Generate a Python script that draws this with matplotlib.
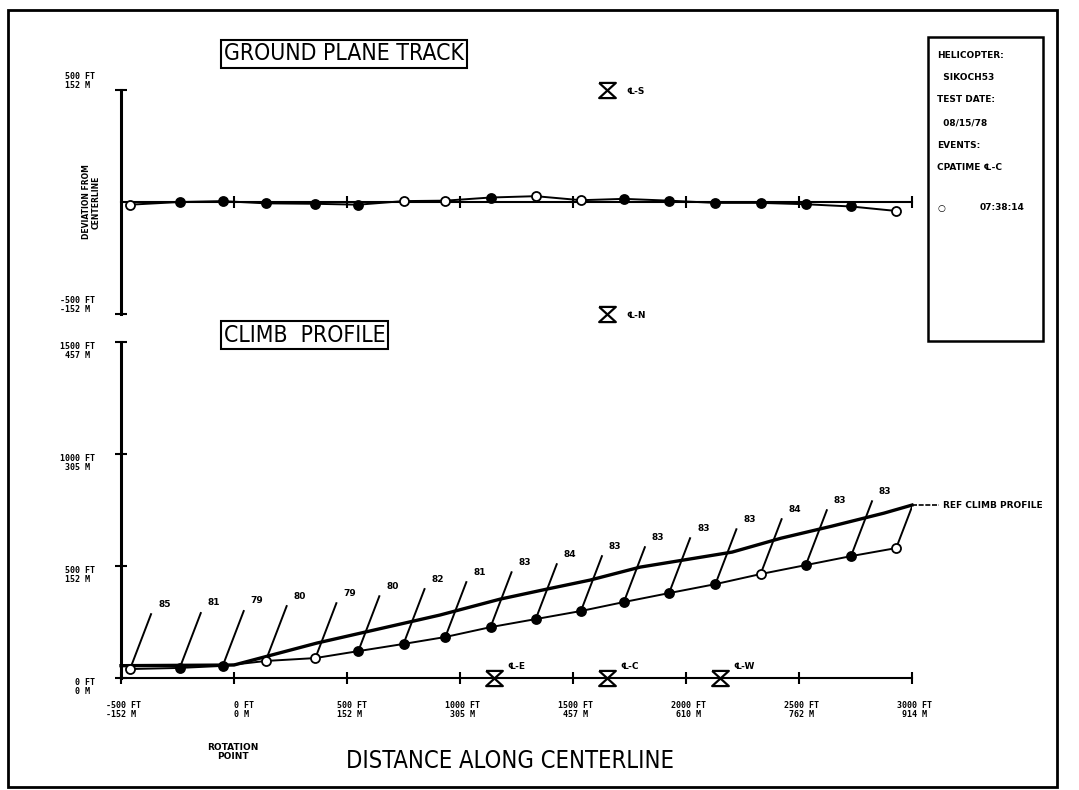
import matplotlib.pyplot as plt
import numpy as np
from matplotlib.path import Path
from matplotlib.patches import Rectangle

# recorded points along the run (same events in both panels)
distance_ft = [-460, -240, -50, 140, 360, 550, 750, 935, 1135, 1335,
               1535, 1725, 1925, 2130, 2330, 2530, 2730, 2930]
deviation_ft = [-12, 0, 4, -6, -8, -12, 4, 6, 20, 26,
                8, 14, 6, -4, -4, -10, -20, -40]
altitude_ft = [40, 45, 54, 76, 89, 120, 152, 183, 227, 263,
               299, 339, 379, 419, 464, 504, 544, 580]
speed_kts = [85, 81, 79, 80, 79, 80, 82, 81, 83,
             84, 83, 83, 83, 83, 84, 83, 83, 83]
# 1 = open symbol, 0 = solid symbol
track_open = [1, 0, 0, 0, 0, 0, 1, 1, 0, 1, 1, 0, 0, 0, 0, 0, 0, 1]
climb_open = [1, 0, 0, 1, 1, 0, 0, 0, 0, 0, 0, 0, 0, 0, 1, 0, 0, 1]

# reference climb profile
ref_dist_ft = [-500, 0, 367, 911, 1177, 1385, 1575, 1797, 2204, 2420, 2646, 2876, 3000]
ref_alt_ft = [55, 58, 156, 281, 352, 397, 437, 495, 562, 624, 678, 736, 772]

# microphone positions
mic_names = ['E', 'C', 'W']
mic_dist_ft = [1150, 1650, 2150]
side_mic_names = ['S', 'N']
side_mic_dev_ft = [500, -500]
side_mic_dist_ft = 1650

x_ticks_ft = [-500, 0, 500, 1000, 1500, 2000, 2500, 3000]
x_ticks_m = [-152, 0, 152, 305, 457, 610, 762, 914]
climb_ticks_ft = [0, 500, 1000, 1500]
climb_ticks_m = [0, 152, 305, 457]
track_ticks_ft = [-500, 500]
track_ticks_m = [-152, 152]

info_lines = ['HELICOPTER:', '  SIKOCH53', 'TEST DATE:', '  08/15/78',
              'EVENTS:', 'CPATIME \u2104-C']
cpa_time = '07:38:14'

W, H = 1079, 790
fig = plt.figure(figsize=(W / 100, H / 100), dpi=100)


def fbox(x0, y0, x1, y1):
    # pixel box -> figure fraction [left, bottom, width, height]
    return [x0 / W, 1 - y1 / H, (x1 - x0) / W, (y1 - y0) / H]


def fx(px):
    return px / W


def fy(py):
    return 1 - py / H


lbl_font = dict(family='DejaVu Sans Mono', weight='bold', size=6)
small_bold = dict(family='DejaVu Sans', weight='bold', size=6.5)
plotter = dict(family='DejaVu Sans', weight='light', stretch='condensed')

hourglass = Path([(-1.1, 1), (1.1, 1), (-1.1, -1), (1.1, -1), (-1.1, 1)])


def tick_text(ft, m):
    return f"{ft:>5} FT\n{m:>5} M "


def draw_points(ax, x, y, opens):
    for xi, yi, o in zip(x, y, opens):
        ax.plot(xi, yi, 'o', ms=6.5, mew=1.3, mec='black',
                mfc='white' if o else 'black', zorder=5, clip_on=False)


# ---------------- ground plane track ----------------
ax_t = fig.add_axes(fbox(121, 90, 912, 314))
ax_t.set_xlim(-500, 3000)
ax_t.set_ylim(-500, 500)
ax_t.patch.set_alpha(0)
for s in ['top', 'right']:
    ax_t.spines[s].set_visible(False)
ax_t.spines['bottom'].set_position(('data', 0))
ax_t.spines['left'].set_linewidth(2.2)
ax_t.spines['bottom'].set_linewidth(1.5)
ax_t.set_xticks([0, 500, 1000, 1500, 2000, 2500, 3000])
ax_t.set_xticklabels([])
ax_t.set_yticks(track_ticks_ft)
ax_t.set_yticklabels([tick_text(a, b) for a, b in zip(track_ticks_ft, track_ticks_m)],
                     **lbl_font, linespacing=0.95)
for t in ax_t.get_yticklabels():
    t.set_va('bottom')
ax_t.tick_params(direction='inout', length=9, width=1.5, pad=14)
ax_t.tick_params(axis='x', length=8)

ax_t.plot(distance_ft, deviation_ft, color='black', lw=1.4, zorder=4, clip_on=False)
draw_points(ax_t, distance_ft, deviation_ft, track_open)

for name, dev in zip(side_mic_names, side_mic_dev_ft):
    ax_t.plot(side_mic_dist_ft, dev, marker=hourglass, ms=12, mfc='none',
              mec='black', mew=1.6, clip_on=False)
    ax_t.annotate('\u2104-' + name, (side_mic_dist_ft, dev), xytext=(14, -1),
                  textcoords='offset points', va='center', **small_bold)

ax_t.text(-0.037, 0.5, 'DEVIATION FROM\nCENTERLINE', transform=ax_t.transAxes,
          rotation=90, ha='center', va='center', linespacing=1.1,
          family='DejaVu Sans', weight='bold', size=5.5)

# ---------------- climb profile ----------------
ax_c = fig.add_axes(fbox(121, 342, 912, 678))
ax_c.set_xlim(-500, 3000)
ax_c.set_ylim(0, 1500)
ax_c.patch.set_alpha(0)
for s in ['top', 'right']:
    ax_c.spines[s].set_visible(False)
ax_c.spines['left'].set_linewidth(2.2)
ax_c.spines['bottom'].set_linewidth(1.5)
ax_c.set_xticks(x_ticks_ft)
ax_c.set_xticklabels([tick_text(a, b) for a, b in zip(x_ticks_ft, x_ticks_m)],
                     **lbl_font, linespacing=0.95)
ax_c.set_yticks(climb_ticks_ft)
ax_c.set_yticklabels([tick_text(a, b) for a, b in zip(climb_ticks_ft, climb_ticks_m)],
                     **lbl_font, linespacing=0.95)
for t in ax_c.get_yticklabels():
    t.set_va('top')
ax_c.tick_params(direction='inout', length=9, width=1.5)
ax_c.tick_params(axis='x', pad=12)
ax_c.tick_params(axis='y', pad=14)

ax_c.plot(ref_dist_ft, ref_alt_ft, color='black', lw=2.4, zorder=3, clip_on=False)
ax_c.plot(distance_ft, altitude_ft, color='black', lw=1.4, zorder=4)
draw_points(ax_c, distance_ft, altitude_ft, climb_open)

# airspeed flags
flag_dx, flag_dy = 93, 245
for i, (x, y, v) in enumerate(zip(distance_ft, altitude_ft, speed_kts)):
    ax_c.plot([x, x + flag_dx], [y, y + flag_dy], color='black', lw=1.4, zorder=4)
    txt = f"{v}   KTS" if i == len(speed_kts) - 1 else str(v)
    ax_c.annotate(txt, (x + flag_dx, y + flag_dy), xytext=(5, 4),
                  textcoords='offset points', ha='left', va='bottom', **small_bold)

# reference profile label with leader
ax_c.plot([ref_dist_ft[-1], ref_dist_ft[-1] + 120], [ref_alt_ft[-1]] * 2,
          color='black', lw=1.2, ls=(0, (3, 1)), clip_on=False)
ax_c.text(ref_dist_ft[-1] + 135, ref_alt_ft[-1], 'REF CLIMB PROFILE',
          va='center', ha='left', **small_bold)

for name, d in zip(mic_names, mic_dist_ft):
    ax_c.plot(d, 0, marker=hourglass, ms=12, mfc='white', mec='black',
              mew=1.6, clip_on=False, zorder=6)
    ax_c.annotate('\u2104-' + name, (d, 0), xytext=(10, 5),
                  textcoords='offset points', ha='left', va='bottom', **small_bold)

# ---------------- titles and labels ----------------
box = dict(boxstyle='square,pad=0.12', fc='white', ec='black', lw=1.5)
fig.text(fx(224), fy(54), 'GROUND PLANE TRACK', ha='left', va='center',
         fontsize=16.5, bbox=box, **plotter)
fig.text(fx(224), fy(335), 'CLIMB  PROFILE', ha='left', va='center',
         fontsize=16.5, bbox=box, **plotter)
fig.text(fx(510), fy(761), 'DISTANCE ALONG CENTERLINE', ha='center', va='center',
         fontsize=17, **plotter)
fig.text(fx(233), fy(752), 'ROTATION\nPOINT', ha='center', va='center',
         linespacing=0.9, **small_bold)

# info box
fig.patches.append(Rectangle((fx(928), fy(341)), fx(1043) - fx(928), fy(37) - fy(341),
                             transform=fig.transFigure, fill=False, ec='black', lw=1.8))
line_y = [55, 78, 100, 123, 145, 167]
for yy, s in zip(line_y, info_lines):
    fig.text(fx(937), fy(yy), s, ha='left', va='center', **small_bold)
fig.text(fx(937), fy(208), '\u25cb', ha='left', va='center', **small_bold)
fig.text(fx(980), fy(208), cpa_time, ha='left', va='center', **small_bold)

# outer frame
fig.patches.append(Rectangle((fx(8), fy(787)), fx(1057) - fx(8), fy(10) - fy(787),
                             transform=fig.transFigure, fill=False, ec='black', lw=2))

fig.savefig('out.png', dpi=100, facecolor='white')
